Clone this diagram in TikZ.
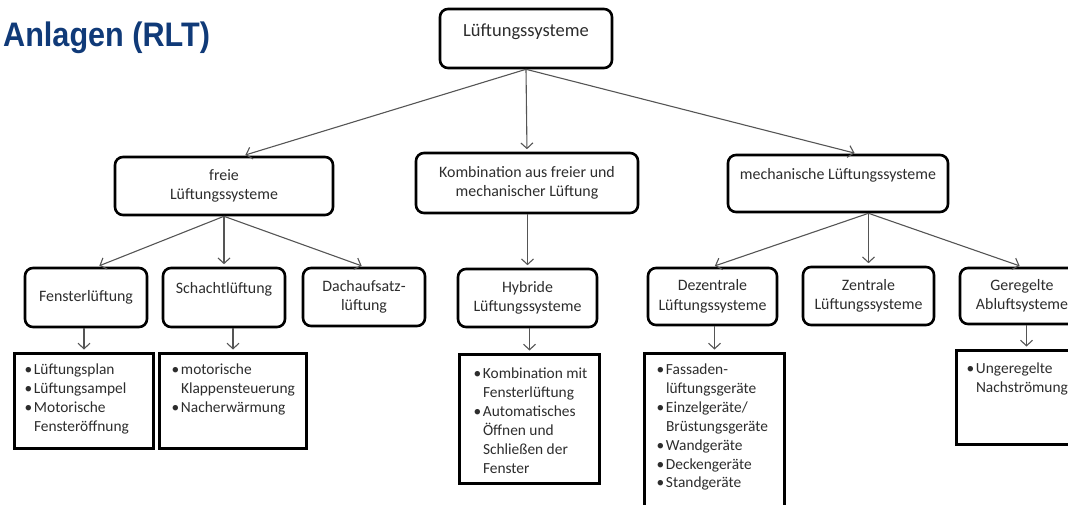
\documentclass[tikz,border=0pt]{standalone}
\usepackage{fontspec}
\setmainfont{Carlito}
\newfontfamily\titlefont{Liberation Sans}
\usetikzlibrary{arrows.meta}
\definecolor{titleblue}{RGB}{16,58,120}
\definecolor{txt}{RGB}{45,45,45}
\definecolor{arrgray}{RGB}{85,85,85}
\newcommand\lbx[5]{\parbox[c][#1][t]{#2}{\fontsize{15.4}{18.9}\selectfont\raggedright\leftskip=#3\relax\rule{0pt}{#4}#5}}
\newcommand\bu{\makebox[9.5pt][l]{•}}
\newcommand\ci{\hspace*{9.5pt}}
\begin{document}
\begin{tikzpicture}[x=1pt,y=-1pt,
  rbox/.style={draw=black, line width=2.6pt, rounded corners=8pt, fill=white, inner sep=0pt,
    align=center, text=txt, font=\fontsize{15.9}{19.5}\selectfont},
  lbox/.style={draw=black, line width=3pt, fill=white, inner sep=0pt, text=txt, anchor=north west},
  arr/.style={draw=arrgray, line width=1.1pt, -{Straight Barb[length=5.5pt,width=12pt]}, shorten >=2.5pt}]
\useasboundingbox (0,0) rectangle (1068,505);
\clip (0,0) rectangle (1068,505);

\node[anchor=base west, text=titleblue, font=\titlefont\bfseries\fontsize{34}{40}\selectfont, inner sep=0pt] (title) at (3,47) {\scalebox{0.9}[1]{Anlagen (RLT)}};

% level 1
\node[rbox, minimum width=172pt, minimum height=59pt, font=\fontsize{18.5}{16}\selectfont] (top) at (526,38.5) {Lüftungssysteme\\ \mbox{}};

% level 2
\node[rbox, minimum width=218pt, minimum height=58pt] (freie) at (224,186) {freie\\Lüftungssysteme};
\node[rbox, minimum width=222pt, minimum height=60pt] (komb) at (527,183) {Kombination aus freier und\\mechanischer Lüftung};
\node[rbox, minimum width=220pt, minimum height=57pt] (mech) at (838,183.5) {mechanische Lüftungssysteme\\ \mbox{}};

% level 3
\node[rbox, minimum width=122pt, minimum height=59pt] (fenster) at (86,297.5) {Fensterlüftung};
\node[rbox, minimum width=122pt, minimum height=59pt] (schacht) at (224,297.5) {Schachtlüftung\\ \mbox{}};
\node[rbox, minimum width=122pt, minimum height=58pt] (dach) at (364,297) {Dachaufsatz-\\lüftung};
\node[rbox, minimum width=139pt, minimum height=58pt] (hybr) at (527.5,298) {Hybride\\Lüftungssysteme};
\node[rbox, minimum width=129pt, minimum height=57pt] (dez) at (712.5,296.5) {Dezentrale\\Lüftungssysteme};
\node[rbox, minimum width=131pt, minimum height=58pt] (zentr) at (868.5,296) {Zentrale\\Lüftungssysteme};
\node[rbox, minimum width=124pt, minimum height=56pt] (geregelt) at (1022,296) {Geregelte\\Abluftsysteme};

% lists
\node[lbox] (flist) at (13,352) {\lbx{95pt}{139pt}{10pt}{21pt}{\bu Lüftungsplan\\ \bu Lüftungsampel\\ \bu Motorische\\ \ci Fensteröffnung}};
\node[lbox] (slist) at (158,352) {\lbx{95pt}{147pt}{12pt}{21pt}{\bu motorische\\ \ci Klappensteuerung\\ \bu Nacherwärmung}};
\node[lbox] (hlist) at (458,353) {\lbx{129pt}{140pt}{14pt}{24pt}{\bu Kombination mit\\ \ci Fensterlüftung\\ \bu Automatisches\\ \ci Öffnen und\\ \ci Schließen der\\ \ci Fenster}};
\node[lbox] (dlist) at (643,352) {\lbx{165pt}{140pt}{12pt}{21pt}{\bu Fassaden-\\ \ci lüftungsgeräte\\ \bu Einzelgeräte/\\ \ci Brüstungsgeräte\\ \bu Wandgeräte\\ \bu Deckengeräte\\ \bu Standgeräte}};
\node[lbox] (glist) at (955,349) {\lbx{94pt}{140pt}{10pt}{23pt}{\bu Ungeregelte\\ \ci Nachströmung}};

% connectors
\draw[arr] (top.south) -- ([xshift=19pt]freie.north);
\draw[arr] (top.south) -- (komb.north);
\draw[arr] (top.south) -- ([xshift=19pt]mech.north);

\draw[arr] (freie.south -| schacht.north) -- ([xshift=11pt]fenster.north);
\draw[arr] (freie.south -| schacht.north) -- (schacht.north);
\draw[arr] (freie.south -| schacht.north) -- (dach.north);

\draw[arr] (komb.south -| hybr.north) -- (hybr.north);

\draw[arr] (mech.south -| zentr.north) -- (dez.north);
\draw[arr] (mech.south -| zentr.north) -- (zentr.north);
\draw[arr] (mech.south -| zentr.north) -- (geregelt.north);

\draw[arr] (fenster.south -| flist.north) -- (flist.north);
\draw[arr] (schacht.south -| slist.north) -- (slist.north);
\draw[arr] (hybr.south -| hlist.north) -- (hlist.north);
\draw[arr] (dez.south -| dlist.north) -- (dlist.north);
\draw[arr] (geregelt.south -| glist.north) -- (glist.north);
\end{tikzpicture}
\end{document}
